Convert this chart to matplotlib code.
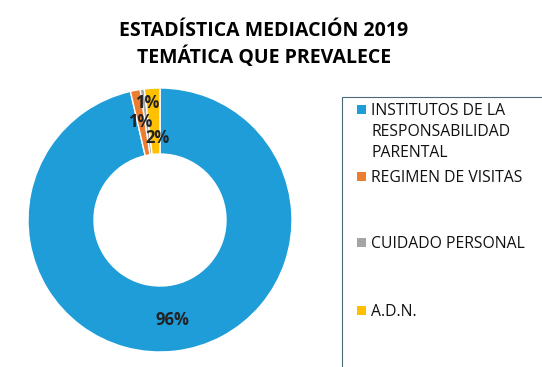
import matplotlib
matplotlib.use('Agg')
import matplotlib.pyplot as plt
from matplotlib.patches import Rectangle

plt.rcParams['font.family'] = ['Open Sans', 'DejaVu Sans']

categories = ['INSTITUTOS DE LA\nRESPONSABILIDAD\nPARENTAL', 'REGIMEN DE VISITAS',
              'CUIDADO PERSONAL', 'A.D.N.']
values = [96.4, 1.2, 0.5, 1.9]
labels = ['96%', '1%', '1%', '2%']
colors = ['#1F9DD9', '#ED7D31', '#A5A5A5', '#FFC000']

W, H = 542, 367
fig = plt.figure(figsize=(W / 100, H / 100), dpi=100)

# donut axes: centre (160, 220) px, radius 132 px
cx, cy, r = 160, 220, 132
ax = fig.add_axes([(cx - r) / W, (H - cy - r) / H, 2 * r / W, 2 * r / H])
wedges, _ = ax.pie(values, colors=colors, startangle=90, counterclock=False,
                   radius=1, wedgeprops=dict(width=0.5, edgecolor='white', linewidth=1))
ax.set_xlim(-1, 1)
ax.set_ylim(-1, 1)
ax.set_aspect('equal')
ax.axis('off')

# data labels (big one in the ring, small ones stacked near the top like excel does)
lbl_pos = [(172, 320), (140, 122), (147, 103), (158, 138)]
for lab, (px, py) in zip(labels, lbl_pos):
    fig.text(px / W, 1 - py / H, lab, ha='center', va='center',
             fontsize=12, fontweight='bold', color='#222222')

fig.text(264 / W, 1 - 31 / H, 'ESTADÍSTICA MEDIACIÓN 2019', ha='center', va='center',
         fontsize=14, fontweight='bold', color='black')
fig.text(264 / W, 1 - 57 / H, 'TEMÁTICA QUE PREVALECE', ha='center', va='center',
         fontsize=14, fontweight='bold', color='black')

# legend frame (only left/top edges are visible)
fig.add_artist(Rectangle((342 / W, -0.1), 1, 1 - 97 / H + 0.1, transform=fig.transFigure,
                         fill=False, edgecolor='#4A6A7A', linewidth=0.8))

leg_y = [109, 176, 242, 310]
for cat, col, y in zip(categories, colors, leg_y):
    fig.add_artist(Rectangle((357 / W, 1 - (y + 4.5) / H), 9 / W, 9 / H,
                             transform=fig.transFigure, facecolor=col, edgecolor='none'))
    fig.text(371 / W, 1 - (y - 6) / H, cat, ha='left', va='top', fontsize=11.3,
             color='#111111', linespacing=1.42)

fig.savefig('out.png', dpi=100)
